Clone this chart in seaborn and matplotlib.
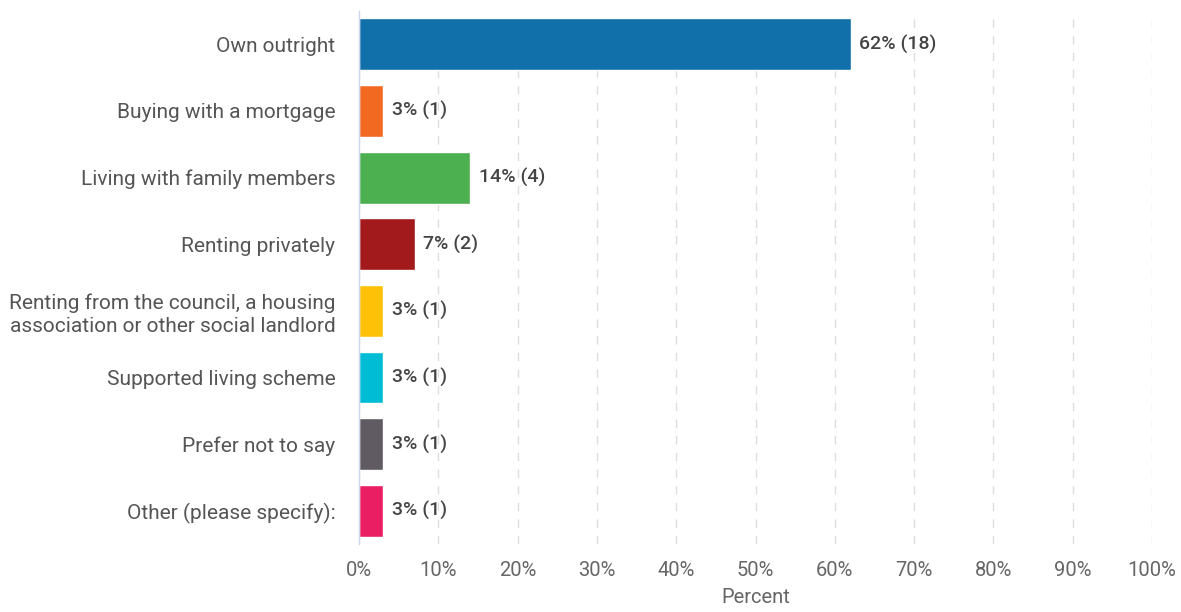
import matplotlib
matplotlib.use("Agg")
import matplotlib.pyplot as plt
import seaborn as sns
import pandas as pd

categories = [
    "Own outright",
    "Buying with a mortgage",
    "Living with family members",
    "Renting privately",
    "Renting from the council, a housing\nassociation or other social landlord",
    "Supported living scheme",
    "Prefer not to say",
    "Other (please specify):",
]
percents = [62, 3, 14, 7, 3, 3, 3, 3]
counts = [18, 1, 4, 2, 1, 1, 1, 1]
colors = ["#1170AA", "#F26A21", "#4CAF50", "#A31A1C", "#FFC107", "#00BCD4", "#605A63", "#E91E63"]
x_ticks = [0, 10, 20, 30, 40, 50, 60, 70, 80, 90, 100]

df = pd.DataFrame({"category": categories, "percent": percents, "count": counts})

sns.set_theme(style="white")
plt.rcParams["font.family"] = ["Roboto", "DejaVu Sans"]

fig = plt.figure(figsize=(11.81, 6.12), dpi=100)
ax = fig.add_axes([0.304, 0.111, 0.6715, 0.871])

sns.barplot(data=df, x="percent", y="category", hue="category", palette=colors,
            legend=False, width=0.78, ax=ax, saturation=1, orient="h")

ax.set_xlim(0, 100)
ax.set_ylim(len(categories) - 0.5, -0.5)
ax.set_xticks(x_ticks)
ax.set_xticklabels([f"{t}%" for t in x_ticks], fontsize=14.5, color="#666666")
ax.tick_params(axis="x", length=0, pad=12)
ax.tick_params(axis="y", length=0, pad=17)
for lbl in ax.get_yticklabels():
    lbl.set_fontsize(15)
    lbl.set_color("#555555")
    lbl.set_horizontalalignment("right")
    lbl.set_linespacing(1.25)

ax.grid(axis="x", color="#DDDDDD", linestyle=(0, (6, 6)), linewidth=1)
ax.set_axisbelow(True)
for side in ["top", "right", "bottom"]:
    ax.spines[side].set_visible(False)
ax.spines["left"].set_color("#CCD6EB")
ax.spines["left"].set_linewidth(1)

ax.set_ylabel("")
ax.set_xlabel("Percent", fontsize=14.5, color="#666666", labelpad=6)

for i, (p, c) in enumerate(zip(percents, counts)):
    ax.text(p + 1.1, i, f"{p}% ({c})", va="center", ha="left",
            fontsize=14, color="#444444", fontweight="medium")

fig.savefig("out.png", dpi=100)
